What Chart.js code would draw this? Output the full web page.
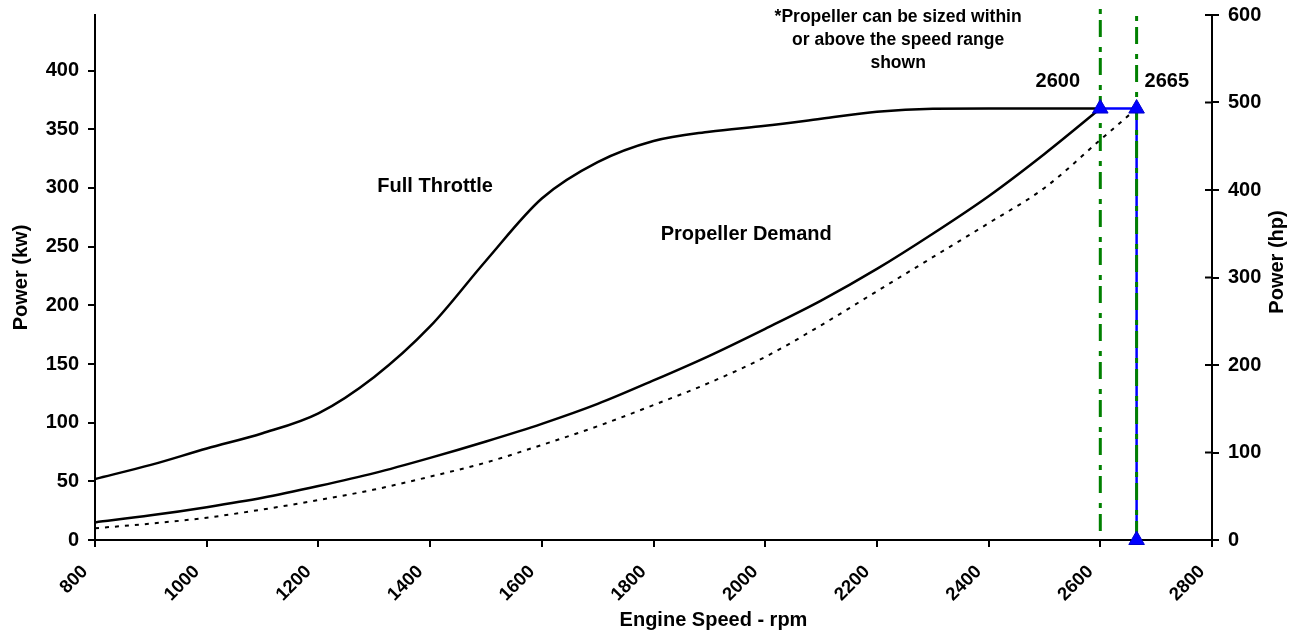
<!DOCTYPE html>
<html>
<head>
<meta charset="utf-8">
<script src="https://cdn.jsdelivr.net/npm/chart.js@4/dist/chart.umd.min.js"></script>
<style>
    html, body { margin: 0; padding: 0; background: #fff; }
    #wrap { width: 1296px; height: 633px; }
</style>
</head>
<body>
<div id="wrap"><canvas id="powerChart" width="1296" height="633"></canvas></div>
<script>
// Engine speed points (rpm)
const speedRpm = [800, 900, 1000, 1100, 1200, 1300, 1400, 1500, 1600, 1700,
                  1800, 1900, 2000, 2100, 2200, 2300, 2400, 2500, 2600];

// Full throttle power (kW)
const fullThrottleKw = [52, 64, 78, 91, 108, 139, 182, 238, 291, 322,
                        340, 348, 353, 359, 365, 367.5, 367.7, 367.7, 367.7];

// Propeller demand, sized for 2600 rpm (kW)
const propDemandKw = [15, 21, 28, 36, 46, 57, 70, 84, 99, 116,
                      136, 157, 180, 204, 231, 261, 293, 329, 367.7];

// Propeller demand, sized for 2665 rpm (kW) - dotted
const propAltRpm = [800, 900, 1000, 1100, 1200, 1300, 1400, 1500, 1600, 1700,
                    1800, 1900, 2000, 2100, 2200, 2300, 2400, 2500, 2600, 2665];
const propAltKw = [10, 14, 19, 26, 34, 43, 54, 66, 81, 97,
                   115, 134, 156, 183, 212, 241, 270, 300, 341, 367.7];

// Rated points
const ratedRpm = [2600, 2665];
const ratedKw = 367.7;

// Axis ranges
const rpmMin = 800;
const rpmMax = 2800;
const rpmStep = 200;
const hpMax = 600;
const hpStep = 100;
const kwStep = 50;
const kwPerHp = 0.7457;
const kwMax = hpMax * kwPerHp;

const FONT = '"Liberation Sans", Arial, sans-serif';

function pts(xs, ys) {
    return xs.map((x, i) => ({ x: x, y: ys[i] }));
}

// Text labels, axis titles and the inner half of the hp ticks
const overlayPlugin = {
    id: 'overlay',
    afterDraw(chart) {
        const ctx = chart.ctx;
        const xs = chart.scales.x;
        const ys = chart.scales.y;
        const hp = chart.scales.hp;
        const area = chart.chartArea;

        ctx.save();
        // hp ticks cross the axis
        ctx.strokeStyle = '#000';
        ctx.lineWidth = 2;
        hp.ticks.forEach(t => {
            const py = hp.getPixelForValue(t.value);
            ctx.beginPath();
            ctx.moveTo(area.right - 7, py);
            ctx.lineTo(area.right, py);
            ctx.stroke();
        });

        ctx.fillStyle = '#000';
        ctx.textAlign = 'center';
        ctx.textBaseline = 'middle';
        ctx.font = 'bold 20px ' + FONT;
        ctx.fillText('Full Throttle', xs.getPixelForValue(1409), ys.getPixelForValue(301));
        ctx.fillText('Propeller Demand', xs.getPixelForValue(1966), ys.getPixelForValue(260));
        ctx.fillText('2600', xs.getPixelForValue(2524), ys.getPixelForValue(391));
        ctx.fillText('2665', xs.getPixelForValue(2719), ys.getPixelForValue(391));

        ctx.font = 'bold 17.5px ' + FONT;
        const noteX = xs.getPixelForValue(2238);
        ctx.fillText('*Propeller can be sized within', noteX, 17.5);
        ctx.fillText('or above the speed range', noteX, 40.5);
        ctx.fillText('shown', noteX, 63.5);

        // axis titles
        ctx.font = 'bold 20px ' + FONT;
        ctx.fillText('Engine Speed - rpm', 713.5, 620);

        ctx.save();
        ctx.translate(21.5, (area.top + area.bottom) / 2);
        ctx.rotate(-Math.PI / 2);
        ctx.fillText('Power (kw)', 0, 0);
        ctx.restore();

        ctx.save();
        ctx.translate(1277.5, 262);
        ctx.rotate(-Math.PI / 2);
        ctx.fillText('Power (hp)', 0, 0);
        ctx.restore();

        ctx.restore();
    }
};

const tickFont = { family: FONT, size: 20, weight: 'bold' };

function fitY(width) {
    return s => {
        s.width = width;
        s.paddingTop = 0;
        s.paddingBottom = 0;
    };
}

new Chart(document.getElementById('powerChart'), {
    type: 'line',
    data: {
        datasets: [
            {
                // rated point markers
                data: [{ x: ratedRpm[0], y: ratedKw }, { x: ratedRpm[1], y: ratedKw }, { x: ratedRpm[1], y: 0 }],
                showLine: false,
                pointStyle: 'triangle',
                pointRadius: 9,
                pointBackgroundColor: '#0000ff',
                pointBorderColor: '#0000cc',
                pointBorderWidth: 1,
                clip: false,
                order: 0
            },
            {
                data: [{ x: ratedRpm[0], y: 452.5 }, { x: ratedRpm[0], y: 0 }],
                borderColor: '#008000',
                borderWidth: 3,
                borderDash: [5, 6, 17, 10],
                pointRadius: 0,
                tension: 0,
                clip: false,
                order: 1
            },
            {
                data: [{ x: ratedRpm[1], y: 446.5 }, { x: ratedRpm[1], y: 0 }],
                borderColor: '#008000',
                borderWidth: 3,
                borderDash: [5, 6, 17, 10],
                pointRadius: 0,
                tension: 0,
                order: 1
            },
            {
                data: [{ x: ratedRpm[0], y: ratedKw }, { x: ratedRpm[1], y: ratedKw }, { x: ratedRpm[1], y: 0 }],
                borderColor: '#0000ff',
                borderWidth: 2.5,
                pointRadius: 0,
                tension: 0,
                order: 2
            },
            {
                data: pts(speedRpm, fullThrottleKw),
                borderColor: '#000',
                borderWidth: 2.5,
                pointRadius: 0,
                cubicInterpolationMode: 'monotone',
                order: 3
            },
            {
                data: pts(speedRpm, propDemandKw),
                borderColor: '#000',
                borderWidth: 2.5,
                pointRadius: 0,
                cubicInterpolationMode: 'monotone',
                order: 3
            },
            {
                data: pts(propAltRpm, propAltKw),
                borderColor: '#000',
                borderWidth: 2,
                borderDash: [4, 6],
                pointRadius: 0,
                cubicInterpolationMode: 'monotone',
                order: 3
            }
        ]
    },
    options: {
        responsive: false,
        animation: false,
        layout: { padding: { top: 15, left: 0, right: 0, bottom: 0 } },
        plugins: {
            legend: { display: false },
            tooltip: { enabled: false }
        },
        scales: {
            x: {
                type: 'linear',
                position: 'bottom',
                min: rpmMin,
                max: rpmMax,
                border: { color: '#000', width: 2 },
                grid: { drawOnChartArea: false, color: '#000', lineWidth: 2, tickLength: 7 },
                ticks: {
                    stepSize: rpmStep,
                    minRotation: 45,
                    maxRotation: 45,
                    color: '#000',
                    padding: 14,
                    labelOffset: -10,
                    font: { family: FONT, size: 18.5, weight: 'bold' },
                    callback: v => String(v)
                },
                afterFit: s => {
                    s.height = 93;
                    s.paddingLeft = 0;
                    s.paddingRight = 0;
                }
            },
            y: {
                position: 'left',
                min: 0,
                max: kwMax,
                border: { color: '#000', width: 2 },
                grid: { drawOnChartArea: false, color: '#000', lineWidth: 2, tickLength: 7 },
                ticks: { stepSize: kwStep, color: '#000', padding: 9, font: tickFont },
                afterBuildTicks: s => { s.ticks = s.ticks.filter(t => t.value % kwStep === 0); },
                afterFit: fitY(95)
            },
            hp: {
                position: 'right',
                min: 0,
                max: hpMax,
                border: { color: '#000', width: 2 },
                grid: { drawOnChartArea: false, color: '#000', lineWidth: 2, tickLength: 7 },
                ticks: { stepSize: hpStep, color: '#000', padding: 9, font: tickFont },
                afterFit: fitY(84)
            }
        }
    },
    plugins: [overlayPlugin]
});
</script>
</body>
</html>
